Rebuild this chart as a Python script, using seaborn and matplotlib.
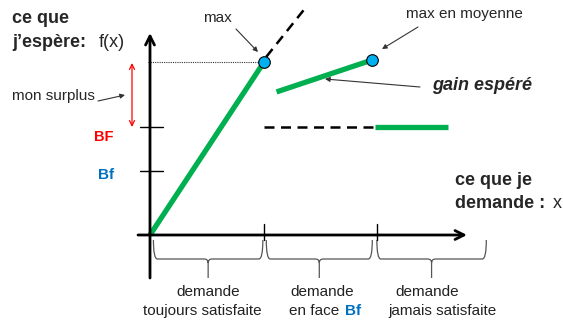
import numpy as np
import pandas as pd
import matplotlib
matplotlib.use("Agg")
import matplotlib.pyplot as plt
import seaborn as sns
from matplotlib.path import Path
from matplotlib.patches import PathPatch

# ---- data (diagram units: x = demand, y = f(x)) ----
seg1_x = [0.0, 1.0]
seg1_y = [0.0, 1.0]
seg2_x = [1.11, 1.95]
seg2_y = [0.827, 1.012]
seg3_x = [1.97, 2.61]
level_BF = 0.624
level_Bf = 0.37
ext_x = [1.02, 1.36]
ext_y = [1.03, 1.31]
dash_x = [1.0, 1.97]
dots_x = [1.0, 1.95]
dots_y = [1.0, 1.012]
xticks = [1.0, 1.99]
regions = [(0.03, 0.99), (1.02, 1.95), (1.99, 2.95)]
region_line1 = ["demande", "demande", "demande"]
region_line2 = ["toujours satisfaite", "en face ", "jamais satisfaite"]

GREEN = "#00B050"
BLUE = "#00B0F0"
RED = "#FF0000"
DBLUE = "#0070C0"

sns.set_theme(style="white")
plt.rcParams["font.family"] = ["Liberation Sans", "DejaVu Sans"]

# pixel helper for layout
OX, OY, SX, SY = 150.0, 235.0, 114.0, 173.0
def P(px, py):
    return ((px - OX) / SX, (OY - py) / SY)

fig = plt.figure(figsize=(5.63, 3.23), dpi=100)
ax = fig.add_axes([0, 0, 1, 1])
ax.set_xlim(-OX / SX, (563 - OX) / SX)
ax.set_ylim((OY - 323) / SY, OY / SY)
ax.axis("off")

# green segments via seaborn
df = pd.DataFrame({
    "x": seg1_x + seg2_x + seg3_x,
    "y": seg1_y + seg2_y + [level_BF, level_BF],
    "seg": ["a", "a", "b", "b", "c", "c"],
})
sns.lineplot(data=df, x="x", y="y", units="seg", estimator=None,
             color=GREEN, lw=3.8, ax=ax, legend=False, zorder=3,
             solid_capstyle="butt")

# dashed lines
ax.plot(ext_x, ext_y, color="black", lw=1.8, ls=(0, (4, 2.6)), zorder=2)
ax.plot(dash_x, [level_BF, level_BF], color="black", lw=1.8,
        ls=(0, (4, 2.6)), zorder=2)
# dotted guide to max
ax.plot([P(148, 0)[0], dots_x[0]], [dots_y[0], dots_y[0]], color="#333333",
        lw=0.8, ls=(0, (1, 1)), zorder=2)

# dots
sns.scatterplot(x=dots_x, y=dots_y, s=70, color=BLUE, edgecolor="black",
                linewidth=0.8, ax=ax, zorder=5, legend=False)

# axes arrows
arrow = dict(arrowstyle="->", lw=2, color="black", mutation_scale=16,
             shrinkA=0, shrinkB=0)
ax.annotate("", xy=P(150, 33), xytext=P(150, 278), arrowprops=arrow)
ax.annotate("", xy=P(467, 235), xytext=P(138, 235), arrowprops=arrow)

# y ticks
for lv in (level_BF, level_Bf):
    ax.plot([P(140, 0)[0], P(163, 0)[0]], [lv, lv], color="black", lw=1.0)
# x ticks
for xt in xticks:
    ax.plot([xt, xt], [P(0, 224)[1], P(0, 240)[1]], color="black", lw=1.0)

# braces
def brace(x0, x1, ytop=240, ymid=259, ytip=278, r=4):
    p0 = OX + x0 * SX
    p1 = OX + x1 * SX
    pc = (p0 + p1) / 2
    pts = [(p0, ytop), (p0, ymid), (p0 + r, ymid),
           (pc - r, ymid), (pc, ymid), (pc, ymid + r),
           (pc, ytip), (pc, ymid + r),
           (pc, ymid), (pc + r, ymid),
           (p1 - r, ymid), (p1, ymid), (p1, ytop)]
    codes = [Path.MOVETO, Path.CURVE3, Path.CURVE3,
             Path.LINETO, Path.CURVE3, Path.CURVE3,
             Path.LINETO, Path.MOVETO,
             Path.CURVE3, Path.CURVE3,
             Path.LINETO, Path.CURVE3, Path.CURVE3]
    verts = [P(a, b) for a, b in pts]
    ax.add_patch(PathPatch(Path(verts, codes), fill=False,
                           edgecolor="#555555", lw=0.9))
    return pc

centers = [brace(a, b) for a, b in regions]

# red surplus arrow
ax.annotate("", xy=P(132, 63), xytext=P(132, 127),
            arrowprops=dict(arrowstyle="<->", lw=0.9, color=RED,
                            mutation_scale=9, shrinkA=0, shrinkB=0))

thin = dict(arrowstyle="-|>", lw=0.8, color="#333333", mutation_scale=7,
            shrinkA=0, shrinkB=0)
ax.annotate("", xy=P(125, 95), xytext=P(98, 101), arrowprops=thin)
ax.annotate("", xy=P(258, 52), xytext=P(236, 29), arrowprops=thin)
ax.annotate("", xy=P(382, 49), xytext=P(418, 27), arrowprops=thin)
ax.annotate("", xy=P(325, 79), xytext=P(420, 87), arrowprops=thin)

# texts
ax.text(*P(12, 23), "ce que", fontsize=13, fontweight="bold", va="baseline")
ax.text(*P(12, 47), "j’espère:", fontsize=13, fontweight="bold", va="baseline")
ax.text(*P(99, 47), "f(x)", fontsize=13, va="baseline")
ax.text(*P(12, 100), "mon surplus", fontsize=11, va="baseline")
ax.text(*P(104, 141), "BF", fontsize=10.5, fontweight="bold", color=RED,
        ha="center", va="baseline")
ax.text(*P(106, 179), "Bf", fontsize=11, fontweight="bold", color=DBLUE,
        ha="center", va="baseline")
ax.text(*P(203, 22), "max", fontsize=11, va="baseline")
ax.text(*P(406, 18), "max en moyenne", fontsize=11, va="baseline")
ax.text(*P(432, 90), "gain espéré", fontsize=13, fontweight="bold",
        fontstyle="italic", va="baseline")
ax.text(*P(455, 185), "ce que je", fontsize=13, fontweight="bold", va="baseline")
ax.text(*P(455, 208), "demande :", fontsize=13, fontweight="bold", va="baseline")
ax.text(*P(553, 208), "x", fontsize=13, va="baseline")

# region labels
l1_cx = [208, 322, 427]
for i in range(3):
    ax.text(*P(l1_cx[i], 296), region_line1[i], fontsize=11, ha="center",
            va="baseline", color="#222222")
ax.text(*P(202, 315), region_line2[0], fontsize=11, ha="center",
        va="baseline", color="#222222")
ax.text(*P(443, 315), region_line2[2], fontsize=11, ha="center",
        va="baseline", color="#222222")
ax.text(*P(289, 315), region_line2[1], fontsize=11, ha="left",
        va="baseline", color="#222222")
ax.text(*P(345, 315), "Bf", fontsize=11, fontweight="bold", ha="left",
        va="baseline", color=DBLUE)

fig.savefig("out.png", dpi=100)
